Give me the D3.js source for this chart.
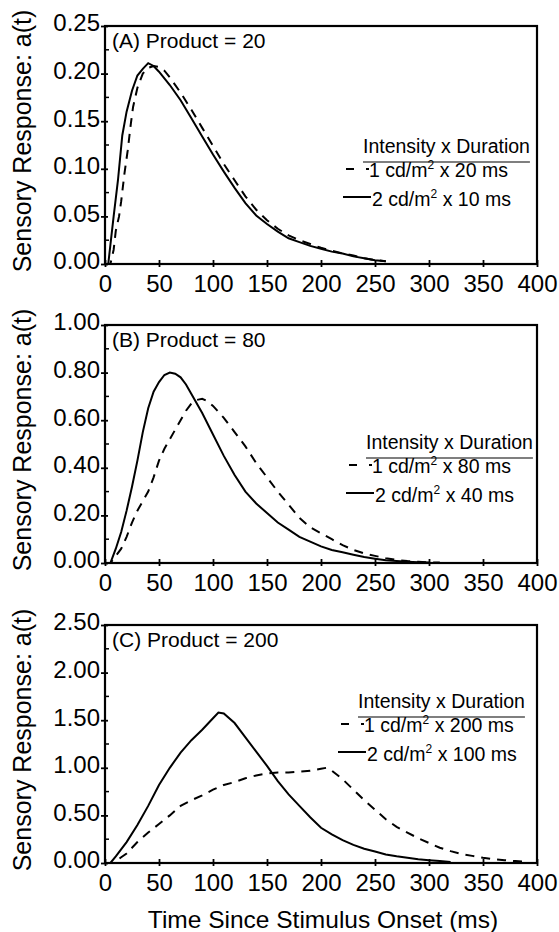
<!DOCTYPE html>
<html>
<head>
<meta charset="utf-8">
<script src="https://cdn.jsdelivr.net/npm/d3@7"></script>
<style>
  body { margin: 0; background: #fff; }
  text { font-family: "Liberation Sans", Arial, sans-serif; fill: #000; }
</style>
</head>
<body>
<div class="chart"></div>
<script>
// time (ms), response a(t)
const solidA = [[0,0],[3,0],[5,0.02],[8,0.05],[12,0.088],[16,0.135],[20,0.16],[25,0.182],[30,0.198],[35,0.205],[40,0.211],[45,0.208],[50,0.202],[60,0.188],[70,0.172],[80,0.153],[90,0.134],[100,0.115],[110,0.097],[120,0.08],[130,0.064],[140,0.051],[150,0.042],[160,0.034],[170,0.027],[180,0.023],[190,0.019],[200,0.016],[210,0.013],[220,0.011],[230,0.008],[240,0.006],[250,0.004],[260,0.003]];
const dashA = [[0,0],[5,0],[8,0.015],[10,0.035],[13,0.05],[15,0.066],[18,0.095],[21,0.119],[24,0.148],[26,0.165],[30,0.185],[35,0.2],[40,0.206],[45,0.208],[50,0.207],[55,0.203],[60,0.196],[70,0.18],[80,0.162],[90,0.143],[100,0.124],[110,0.105],[120,0.088],[130,0.071],[140,0.057],[150,0.046],[160,0.037],[170,0.03],[180,0.025],[190,0.021],[200,0.017],[210,0.014],[220,0.011],[230,0.009],[240,0.006],[250,0.004],[260,0.003]];

const solidB = [[0,0],[5,0],[10,0.06],[15,0.13],[20,0.22],[25,0.32],[30,0.43],[35,0.55],[40,0.65],[45,0.72],[50,0.76],[55,0.79],[60,0.8],[65,0.795],[70,0.78],[75,0.75],[80,0.71],[90,0.63],[100,0.54],[110,0.45],[120,0.37],[130,0.3],[140,0.25],[150,0.21],[160,0.17],[170,0.14],[180,0.11],[190,0.09],[200,0.07],[210,0.055],[220,0.045],[230,0.035],[240,0.025],[250,0.018],[260,0.012],[270,0.008],[280,0.005],[290,0.003],[300,0.002]];
const dashB = [[0,0],[5,0],[10,0.03],[15,0.06],[20,0.11],[25,0.17],[30,0.22],[35,0.26],[40,0.3],[45,0.36],[50,0.43],[55,0.48],[60,0.52],[65,0.56],[70,0.6],[75,0.64],[80,0.67],[85,0.685],[90,0.69],[95,0.68],[100,0.66],[110,0.61],[120,0.55],[130,0.49],[140,0.42],[150,0.36],[160,0.3],[170,0.245],[180,0.19],[190,0.15],[200,0.125],[210,0.1],[220,0.075],[230,0.055],[240,0.04],[250,0.03],[260,0.02],[270,0.013],[280,0.008],[290,0.005],[300,0.003],[310,0.002]];

const solidC = [[0,0],[5,0],[10,0.07],[20,0.22],[30,0.4],[40,0.6],[50,0.82],[60,1.0],[70,1.16],[80,1.29],[90,1.4],[100,1.52],[105,1.58],[110,1.57],[120,1.47],[130,1.32],[140,1.17],[150,1.02],[160,0.86],[170,0.72],[180,0.6],[190,0.48],[200,0.37],[210,0.3],[220,0.24],[230,0.19],[240,0.15],[250,0.12],[260,0.09],[270,0.07],[280,0.055],[290,0.04],[300,0.03],[310,0.02],[320,0.01]];
const dashC = [[0,0],[8,0],[15,0.06],[20,0.1],[25,0.16],[30,0.22],[40,0.32],[50,0.41],[60,0.5],[70,0.6],[80,0.66],[90,0.71],[100,0.77],[110,0.82],[120,0.85],[130,0.89],[140,0.92],[150,0.94],[160,0.95],[170,0.95],[180,0.96],[190,0.97],[200,0.99],[205,1.0],[210,0.97],[220,0.88],[230,0.77],[240,0.66],[250,0.56],[260,0.46],[270,0.38],[280,0.32],[290,0.26],[300,0.21],[310,0.16],[320,0.125],[330,0.095],[340,0.075],[350,0.055],[360,0.04],[370,0.03],[380,0.02],[390,0.012]];

const xTicks = [0, 50, 100, 150, 200, 250, 300, 350, 400];
const yTicksA = [0, 0.05, 0.10, 0.15, 0.20, 0.25];
const yTicksB = [0, 0.2, 0.4, 0.6, 0.8, 1.0];
const yTicksC = [0, 0.5, 1.0, 1.5, 2.0, 2.5];

const panelLabels = ["(A) Product = 20", "(B) Product = 80", "(C) Product = 200"];
const legendTitle = "Intensity x Duration";
const legendDash = [["1 cd/m", " x 20 ms"], ["1 cd/m", " x 80 ms"], ["1 cd/m", " x 200 ms"]];
const legendSolid = [["2 cd/m", " x 10 ms"], ["2 cd/m", " x 40 ms"], ["2 cd/m", " x 100 ms"]];

const W = 559, H = 932;
const left = 105, right = 537, ph = 238;
const tops = [26, 325, 625];
const legendPos = [{x: 363, y: 153}, {x: 366, y: 449}, {x: 358, y: 708}];
const font = '"Liberation Sans", Arial, sans-serif';

const svg = d3.select('.chart').append('svg')
    .attr('width', W)
    .attr('height', H);

const x = d3.scaleLinear().domain([0, 400]).range([left, right]);

const panels = [
    {solid: solidA, dash: dashA, ticks: yTicksA, max: 0.25},
    {solid: solidB, dash: dashB, ticks: yTicksB, max: 1.0},
    {solid: solidC, dash: dashC, ticks: yTicksC, max: 2.5}
];

panels.forEach((p, i) => {
    const top = tops[i], bottom = top + ph;
    const y = d3.scaleLinear().domain([0, p.max]).range([bottom, top]);
    const g = svg.append('g');

    // minor y ticks (inside)
    const step = p.ticks[1] - p.ticks[0];
    g.selectAll('.minor').data(p.ticks.slice(0, -1).map(d => d + step / 2))
        .enter().append('line')
        .attr('x1', left).attr('x2', left + 4)
        .attr('y1', d => y(d)).attr('y2', d => y(d))
        .attr('stroke', '#000').attr('stroke-width', 1.5);

    const yAxis = d3.axisLeft(y).tickValues(p.ticks).tickFormat(d3.format('.2f'))
        .tickSizeInner(4).tickSizeOuter(0).tickPadding(1);
    const ya = g.append('g').attr('transform', `translate(${left},0)`).call(yAxis);
    ya.select('.domain').remove();
    ya.selectAll('.tick line').attr('x2', -4).attr('x1', 3).attr('stroke-width', 1.8);
    ya.selectAll('.tick text').attr('font-size', 24).attr('font-family', font)
        .attr('dy', '0.2em');

    const xAxis = d3.axisBottom(x).tickValues(xTicks).tickSizeInner(4).tickSizeOuter(0).tickPadding(7);
    const xa = g.append('g').attr('transform', `translate(0,${bottom})`).call(xAxis);
    xa.select('.domain').remove();
    xa.selectAll('.tick line').attr('y1', -4).attr('y2', 3).attr('stroke-width', 1.8);
    xa.selectAll('.tick text').attr('font-size', 24).attr('font-family', font);

    // frame
    g.append('rect')
        .attr('x', left).attr('y', top)
        .attr('width', right - left).attr('height', ph)
        .attr('fill', 'none').attr('stroke', '#000').attr('stroke-width', 2.2);

    const line = d3.line().x(d => x(d[0])).y(d => y(d[1]));

    g.append('path').datum(p.dash)
        .attr('d', line).attr('fill', 'none')
        .attr('stroke', '#000').attr('stroke-width', 2)
        .attr('stroke-dasharray', '9,7');
    g.append('path').datum(p.solid)
        .attr('d', line).attr('fill', 'none')
        .attr('stroke', '#000').attr('stroke-width', 2);

    g.append('text')
        .attr('x', left + 7).attr('y', top + 22)
        .attr('font-size', 21)
        .text(panelLabels[i]);

    // legend
    const lg = legendPos[i];
    const lgG = g.append('g').attr('font-size', 19.5);
    const tt = lgG.append('text').attr('x', lg.x).attr('y', lg.y).text(legendTitle);
    const tw = tt.node().getComputedTextLength();
    lgG.append('line')
        .attr('x1', lg.x).attr('x2', lg.x + tw)
        .attr('y1', lg.y + 9).attr('y2', lg.y + 9)
        .attr('stroke', '#555').attr('stroke-width', 1.5);

    lgG.append('line')
        .attr('x1', lg.x - 17).attr('x2', lg.x + 6)
        .attr('y1', lg.y + 16).attr('y2', lg.y + 16)
        .attr('stroke', '#000').attr('stroke-width', 2)
        .attr('stroke-dasharray', '8,12');
    const e1 = lgG.append('text').attr('x', lg.x + 6).attr('y', lg.y + 24);
    e1.append('tspan').text(legendDash[i][0]);
    e1.append('tspan').attr('font-size', 12).attr('dy', -8).text('2');
    e1.append('tspan').attr('dy', 8).text(legendDash[i][1]);

    lgG.append('line')
        .attr('x1', lg.x - 20).attr('x2', lg.x + 8)
        .attr('y1', lg.y + 44).attr('y2', lg.y + 44)
        .attr('stroke', '#000').attr('stroke-width', 2);
    const e2 = lgG.append('text').attr('x', lg.x + 9).attr('y', lg.y + 53);
    e2.append('tspan').text(legendSolid[i][0]);
    e2.append('tspan').attr('font-size', 12).attr('dy', -8).text('2');
    e2.append('tspan').attr('dy', 8).text(legendSolid[i][1]);

    // y title
    g.append('text')
        .attr('transform', `translate(31,${(top + bottom) / 2 - 4}) rotate(-90)`)
        .attr('text-anchor', 'middle')
        .attr('font-size', 25)
        .text('Sensory Response: a(t)');
});

svg.append('text')
    .attr('x', (left + right) / 2 + 2).attr('y', 928)
    .attr('text-anchor', 'middle')
    .attr('font-size', 24.5)
    .text('Time Since Stimulus Onset (ms)');
</script>
</body>
</html>
